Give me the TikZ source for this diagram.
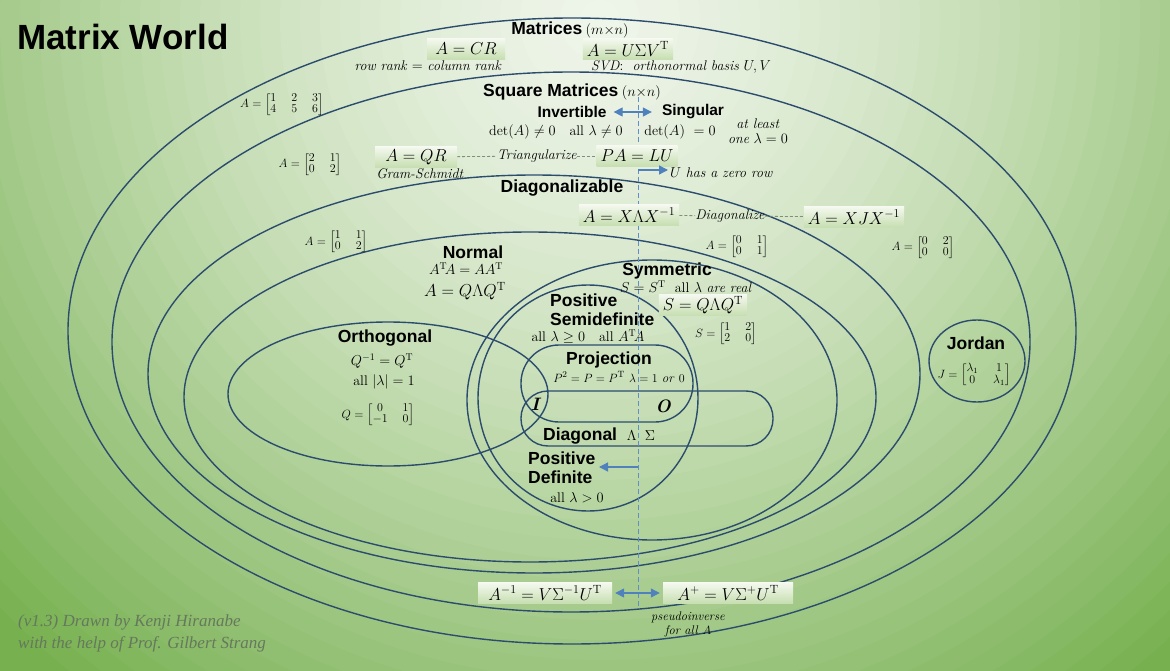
\documentclass[tikz,border=0pt]{standalone}
\usepackage{amsmath}
\usepackage{fontspec}
\newfontfamily\labfont{Liberation Sans}
\newfontfamily\creditfont{Liberation Serif}
\usetikzlibrary{arrows.meta}
\definecolor{bgout}{HTML}{76B04F}
\definecolor{bgin}{HTML}{EFF5EA}
\definecolor{ell}{HTML}{2C4C6E}
\definecolor{arr}{HTML}{4F81BD}
\definecolor{dline}{HTML}{5F8FC8}
\definecolor{boxtop}{HTML}{F5F9F0}
\definecolor{boxbot}{HTML}{C6DEB0}
\definecolor{credit}{HTML}{66785C}
\definecolor{dshc}{HTML}{7F8F7A}
\begin{document}
\begin{tikzpicture}[x=1pt,y=-1pt,
  setline/.style={draw=ell, line width=1.4pt},
  lab/.style={font={\labfont\bfseries\fontsize{17.5}{19}\selectfont}, inner sep=0pt},
  labm/.style={font={\labfont\bfseries\fontsize{15.5}{18}\selectfont}, inner sep=0pt},
  sm/.style={font={\fontsize{14}{16}\selectfont}, inner sep=0pt},
  mat/.style={font={\fontsize{13}{13}\selectfont}, inner sep=0pt,
    execute at begin node={\setlength{\arraycolsep}{7.5pt}\renewcommand{\arraystretch}{0.85}}},
  eqbox/.style={top color=boxtop, bottom color=boxbot, inner xsep=4pt, inner ysep=2pt,
    minimum height=21pt, font={\fontsize{17}{19}\selectfont}},
  dsh/.style={draw=dshc, line width=0.8pt, dash pattern=on 3pt off 2pt},
  vdash/.style={draw=dline, line width=1pt, dash pattern=on 5pt off 3pt},
  barrow/.style={draw=arr, line width=1.3pt, -{Triangle[length=9pt,width=9pt]}},
  dbl/.style={draw=arr, line width=1.3pt, {Triangle[length=9pt,width=9pt]}-{Triangle[length=9pt,width=9pt]}}
]
\useasboundingbox (0,0) rectangle (1170,671);
\fill[bgout] (0,0) rectangle (1170,671);
\begin{scope}
  \clip (0,0) rectangle (1170,671);
  \foreach \i in {0,...,43} {
    \pgfmathsetmacro{\r}{860-\i*20}
    \pgfmathsetmacro{\p}{100*(1-(\r/860)^1.4)}
    \fill[bgin!\p!bgout] (600,20) circle (\r);
  }
\end{scope}

% sets
\draw[setline] (572,331) ellipse (504 and 313);   % Matrices
\draw[setline] (571,342) ellipse (459 and 270);   % Square
\draw[setline] (534,374) ellipse (386 and 199);   % Diagonalizable
\draw[setline] (530,397) ellipse (346 and 165);   % Normal
\draw[setline] (388,394) ellipse (160 and 72);    % Orthogonal
\draw[setline] (652,400) ellipse (185 and 140);   % Symmetric
\draw[setline] (588,398) ellipse (110 and 113);   % Positive semidefinite
\draw[setline] (977,361) ellipse (48 and 41);     % Jordan
\draw[setline, rounded corners=38pt] (521,345) rectangle (693,422); % Projection
\draw[setline, rounded corners=27pt] (521,391) rectangle (773,446); % Diagonal

% invertible / singular divider
\coordinate (dtop) at (638,97);
\coordinate (dbot) at (638,606);
\draw[vdash] (dtop) -- (dbot);

% title
\node[anchor=west, font={\labfont\bfseries\fontsize{35}{37}\selectfont}, inner sep=0pt] (title) at (17,37) {Matrix World};

% Matrices
\node[inner sep=0pt] (mats) at (570,30) {{\labfont\bfseries\fontsize{17.5}{20}\selectfont Matrices} {\fontsize{13.5}{15}\selectfont$(m{\times}n)$}};
\node[eqbox, minimum width=78pt] (cr) at (466,49) {$A = CR$};
\node[sm] (crt) at (428,66) {\textit{row rank} $=$ \textit{column rank}};
\node[eqbox, minimum width=81pt] (svd) at (628,49) {$A = U\Sigma V^{\mathrm{T}}$};
\node[sm] (svdt) at (681,67) {\textit{SVD}:\ \ \textit{orthonormal basis} $U,V$};
\node[mat] (m1) at (282,105) {$A=\begin{bmatrix}1&2&3\\4&5&6\end{bmatrix}$};

% Square
\node[inner sep=0pt] (sq) at (572,92) {{\labfont\bfseries\fontsize{17.5}{20}\selectfont Square Matrices} {\fontsize{13.5}{15}\selectfont$(n{\times}n)$}};
\node[labm] (inv) at (572,112) {Invertible};
\node[labm] (sing) at (693,112) {Singular};
\draw[dbl, shorten <=7pt, shorten >=10pt] (inv.east) -- (sing.west);
\node[sm] (det1) at (556,132) {$\det(A)\neq 0\ \ \ \mathrm{all}\ \lambda\neq 0$};
\node[sm] (det0) at (680,132) {$\det(A)\ =0$};
\node[sm, align=center, font={\fontsize{14}{15}\selectfont}] (atl) at (758,131) {\textit{at least}\\\textit{one} $\lambda=0$};
\node[mat] (m2) at (310,165) {$A=\begin{bmatrix}2&1\\0&2\end{bmatrix}$};
\node[eqbox, minimum width=82pt] (qr) at (416,157) {$A = QR$};
\node[sm] (gs) at (420,174) {\textit{Gram-Schmidt}};
\node[sm] (tri) at (537,156) {\textit{Triangularize}};
\node[eqbox, minimum width=79pt] (lu) at (637,156) {$PA = LU$};
\draw[dsh] (qr) -- (tri);
\draw[dsh] (tri) -- (lu);
\coordinate (zr0) at (638,170);
\node[sm, anchor=west] (zr) at (670,173) {$U$ \textit{has a zero row}};
\draw[barrow, shorten >=2pt] (zr0) -- (zr0 -| zr.west);

% Diagonalizable
\node[lab] (dg) at (562,188) {Diagonalizable};
\node[eqbox, minimum width=100pt] (xlx) at (629,215) {$A = X\Lambda X^{-1}$};
\node[sm] (dgz) at (730,216) {\textit{Diagonalize}};
\node[eqbox, minimum width=98pt] (xjx) at (854,217) {$A = XJX^{-1}$};
\draw[dsh] (xlx) -- (dgz);
\draw[dsh] (dgz) -- (xjx);
\node[mat] (m3) at (336,242) {$A=\begin{bmatrix}1&1\\0&2\end{bmatrix}$};
\node[mat] (m4) at (737,247) {$A=\begin{bmatrix}0&1\\0&1\end{bmatrix}$};
\node[mat] (m5) at (923,248) {$A=\begin{bmatrix}0&2\\0&0\end{bmatrix}$};

% Normal
\node[lab] (nrm) at (473,252) {Normal};
\node[sm] (nrm1) at (466,269) {$A^{\mathrm T}\!A = AA^{\mathrm T}$};
\node[inner sep=0pt, font={\fontsize{17}{19}\selectfont}] (nrm2) at (465,291) {$A = Q\Lambda Q^{\mathrm T}$};

% Symmetric
\node[lab] (sym) at (667,271) {Symmetric};
\node[sm] (sym1) at (686,287) {$S=S^{\mathrm T}$\ \ all $\lambda$ \textit{are real}};
\node[eqbox, minimum width=82pt, minimum height=18pt] (sym2) at (703,305) {$S = Q\Lambda Q^{\mathrm T}$};
\node[mat] (sym3) at (726,334) {$S=\begin{bmatrix}1&2\\2&0\end{bmatrix}$};

% Positive semidefinite
\node[lab, align=left, anchor=west] (psd) at (550,310) {Positive\\Semidefinite};
\node[sm] (psd1) at (588,337) {all $\lambda\geq 0$\quad all $A^{\mathrm T}\!A$};

% Orthogonal
\node[lab] (orth) at (385,338) {Orthogonal};
\node[sm] (o1) at (382,361) {$Q^{-1}=Q^{\mathrm T}$};
\node[sm] (o2) at (384,382) {all\ $|\lambda|=1$};
\node[mat] (o3) at (378,415) {$Q=\begin{bmatrix}0&1\\-1&0\end{bmatrix}$};

% Projection
\node[lab] (prj) at (609,360) {Projection};
\node[sm, font={\fontsize{13}{15}\selectfont}] (prj1) at (619,377) {$P^2=P=P^{\mathrm T}\ \lambda=1$ \textit{or} $0$};
\node[inner sep=0pt, font={\fontsize{18}{19}\selectfont\bfseries\itshape}] (idn) at (535,404) {I};
\node[inner sep=0pt, font={\fontsize{18}{19}\selectfont\bfseries\itshape}] (zero) at (663,406) {O};

% Diagonal
\node[lab, anchor=west] (dgl) at (543,436) {Diagonal\ \ {\fontsize{15}{17}\selectfont$\Lambda$\ \ $\Sigma$}};

% Positive definite
\node[lab, align=left, anchor=west] (pd) at (528,468) {Positive\\Definite};
\coordinate (pd0) at (638,467);
\coordinate (pdtip) at (599,467);
\draw[barrow] (pd0) -- (pdtip);
\node[sm] (pd1) at (577,498) {all $\lambda>0$};

% Jordan
\node[lab] (jor) at (976,343) {Jordan};
\node[mat, font={\fontsize{12}{12}\selectfont}] (jm) at (974,375) {$J=\begin{bmatrix}\lambda_1&1\\0&\lambda_1\end{bmatrix}$};

% inverse / pseudoinverse
\node[eqbox, minimum width=134pt] (ainv) at (545,593) {$A^{-1}=V\Sigma^{-1}U^{\mathrm T}$};
\node[eqbox, minimum width=130pt] (aplus) at (728,593) {$A^{+}=V\Sigma^{+}U^{\mathrm T}$};
\draw[dbl, shorten <=3pt, shorten >=3pt] (ainv) -- (aplus);
\node[sm, align=center, font={\fontsize{12.5}{14}\selectfont}] (pinv) at (688,624) {\textit{pseudoinverse}\\\textit{for all} $A$};

% credits
\node[anchor=west, align=left, inner sep=0pt, text=credit,
  font={\creditfont\itshape\fontsize{17}{22}\selectfont}] (cred) at (18,633)
  {(v1.3) Drawn by Kenji Hiranabe\\with the help of Prof. Gilbert Strang};
\end{tikzpicture}
\end{document}
